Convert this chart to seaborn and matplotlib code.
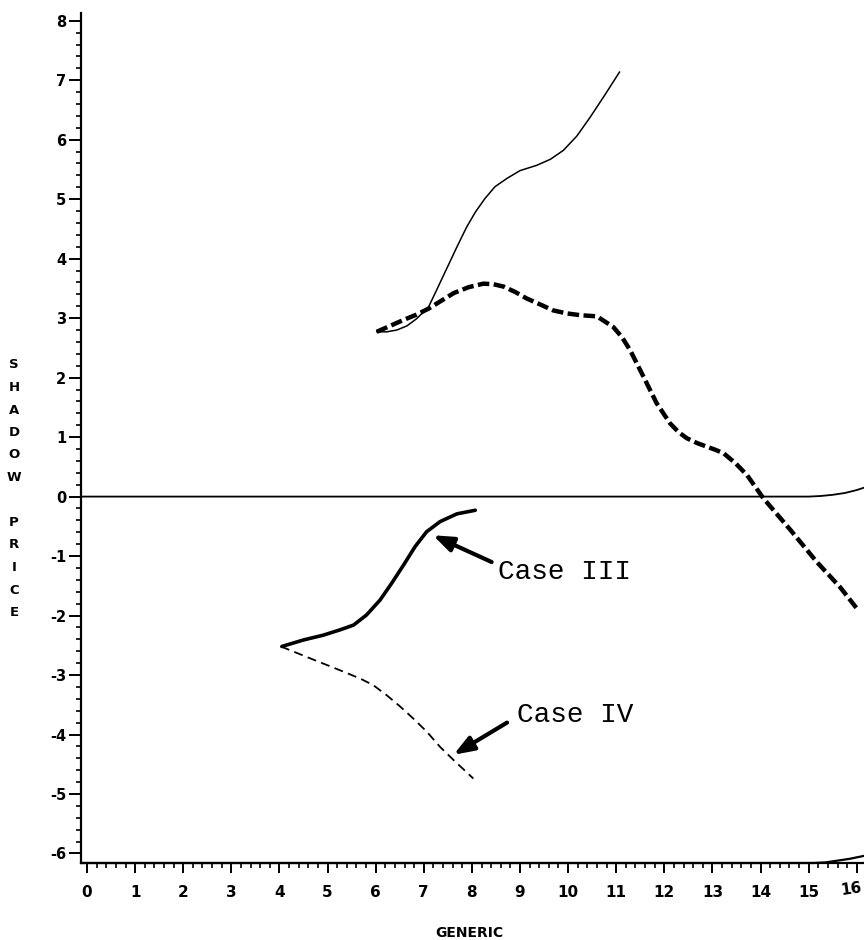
import numpy as np
import pandas as pd
import matplotlib
matplotlib.use("Agg")
import matplotlib.pyplot as plt
from matplotlib.ticker import MultipleLocator
import matplotlib.transforms as mtransforms
import seaborn as sns

sns.set_style('white')
plt.rcParams['font.family'] = ['DejaVu Sans']
plt.rcParams['axes.unicode_minus'] = False
plt.rcParams['text.color'] = 'black'
plt.rcParams['xtick.color'] = 'black'
plt.rcParams['ytick.color'] = 'black'

# thin solid curve (upper)
upper_x = [6.02, 6.23, 6.44, 6.65, 6.85, 7.10, 7.23, 7.37, 7.51, 7.69, 7.89, 8.07, 8.27, 8.48,
           8.73, 9.00, 9.35, 9.63, 9.90, 10.18, 10.46, 10.77, 11.07]
upper_y = [2.77, 2.77, 2.80, 2.87, 2.99, 3.19, 3.41, 3.65, 3.89, 4.20, 4.53, 4.78, 5.01, 5.21,
           5.35, 5.48, 5.57, 5.67, 5.82, 6.06, 6.38, 6.76, 7.14]

# thick dashed curve
dash_x = [6.02, 6.30, 6.58, 6.85, 7.10, 7.36, 7.62, 7.93, 8.24, 8.45, 8.66, 8.90, 9.14, 9.42,
          9.69, 9.97, 10.25, 10.60, 10.94, 11.12, 11.29, 11.57, 11.84, 12.12, 12.30, 12.47,
          12.68, 12.88, 13.05, 13.23, 13.48, 13.72, 14.06, 14.62, 15.17, 15.65, 16.0]
dash_y = [2.77, 2.87, 2.97, 3.06, 3.16, 3.29, 3.42, 3.52, 3.58, 3.57, 3.53, 3.44, 3.33, 3.23,
          3.13, 3.08, 3.05, 3.03, 2.85, 2.68, 2.46, 2.01, 1.57, 1.23, 1.08, 0.98,
          0.90, 0.84, 0.79, 0.73, 0.56, 0.36, -0.03, -0.56, -1.10, -1.52, -1.88]

# zero line, bends up at the right end
zero_x = [-0.125, 15.0, 15.25, 15.5, 15.75, 16.0, 16.15]
zero_y = [0.0, 0.0, 0.01, 0.03, 0.06, 0.11, 0.15]

# line along the bottom edge
floor_x = [-0.125, 15.1, 15.35, 15.6, 15.85, 16.15]
floor_y = [-6.16, -6.16, -6.15, -6.12, -6.09, -6.04]

# Case III (thick solid)
case3_x = [4.05, 4.50, 4.91, 5.26, 5.54, 5.81, 6.09, 6.33, 6.58, 6.82, 7.06, 7.34, 7.69, 8.07]
case3_y = [-2.52, -2.41, -2.33, -2.24, -2.16, -1.99, -1.74, -1.46, -1.15, -0.84, -0.59, -0.42,
           -0.29, -0.23]

# Case IV (thin dashed)
case4_x = [4.03, 4.64, 5.26, 5.68, 5.95, 6.23, 6.51, 6.78, 7.06, 7.34, 7.62, 8.03]
case4_y = [-2.52, -2.72, -2.92, -3.06, -3.17, -3.34, -3.53, -3.73, -3.95, -4.21, -4.43, -4.74]

x_ticks = list(range(0, 17))
y_ticks = list(range(-6, 9))

fig = plt.figure(figsize=(8.64, 9.4), dpi=100)
ax = fig.add_axes([81 / 864, 77 / 940, 783 / 864, 850 / 940])

sns.lineplot(x=zero_x, y=zero_y, ax=ax, color='black', linewidth=1.3, sort=False)
sns.lineplot(x=floor_x, y=floor_y, ax=ax, color='black', linewidth=1.6, sort=False, clip_on=False)
sns.lineplot(x=upper_x, y=upper_y, ax=ax, color='black', linewidth=1.1, sort=False)
sns.lineplot(x=dash_x, y=dash_y, ax=ax, color='black', linewidth=3.2, sort=False,
             linestyle=(0, (2.6, 1.0)))
sns.lineplot(x=case3_x, y=case3_y, ax=ax, color='black', linewidth=2.6, sort=False,
             solid_capstyle='round')
sns.lineplot(x=case4_x, y=case4_y, ax=ax, color='black', linewidth=1.3, sort=False,
             linestyle=(0, (5, 3)))

ax.set_xlim(-0.125, 16.15)
ax.set_ylim(-6.16, 8.13)

ax.set_xticks(x_ticks)
ax.set_yticks(y_ticks)
ax.xaxis.set_minor_locator(MultipleLocator(0.2))
ax.yaxis.set_minor_locator(MultipleLocator(0.2))
ax.tick_params(axis='x', which='major', direction='out', length=7, width=1.4, pad=9,
               labelsize=11, bottom=True)
ax.tick_params(axis='y', which='major', direction='out', length=8.5, width=1.4, pad=2,
               labelsize=10.5, left=True)
ax.tick_params(which='minor', direction='out', length=3.5, width=1.2, bottom=True, left=True)
for lab in ax.get_xticklabels() + ax.get_yticklabels():
    lab.set_fontweight('bold')

# last x label sits tucked against the right edge, slightly raised
last = ax.get_xticklabels()[-1]
last.set_rotation(8)
last.set_transform(last.get_transform() + mtransforms.ScaledTranslation(-6 / 100, 5 / 100, fig.dpi_scale_trans))

for side in ['top', 'right']:
    ax.spines[side].set_visible(False)
for side in ['left', 'bottom']:
    ax.spines[side].set_linewidth(1.6)
    ax.spines[side].set_color('black')
ax.grid(False)

# annotations
mono = 'Liberation Mono'
ax.text(8.54, -1.27, 'Case III', fontsize=20, family=mono, ha='left', va='center')
ax.text(8.94, -3.68, 'Case IV', fontsize=20, family=mono, ha='left', va='center')
arrow = dict(arrowstyle='-|>,head_length=1.2,head_width=0.45', lw=3, color='black',
             shrinkA=0, shrinkB=0, mutation_scale=10)
ax.annotate('', xy=(7.19, -0.65), xytext=(8.41, -1.10), arrowprops=arrow)
ax.annotate('', xy=(7.62, -4.34), xytext=(8.73, -3.80), arrowprops=arrow)

# axis titles
fig.text(469 / 864, 1 - 933 / 940, 'GENERIC', fontsize=10, fontweight='bold',
         ha='center', va='center')
for i, ch in enumerate('SHADOW PRICE'):
    fig.text(14 / 864, 1 - (365 + 22.5 * i) / 940, ch, fontsize=9.5, fontweight='bold',
             ha='center', va='center')

fig.savefig('out.png', dpi=100)
